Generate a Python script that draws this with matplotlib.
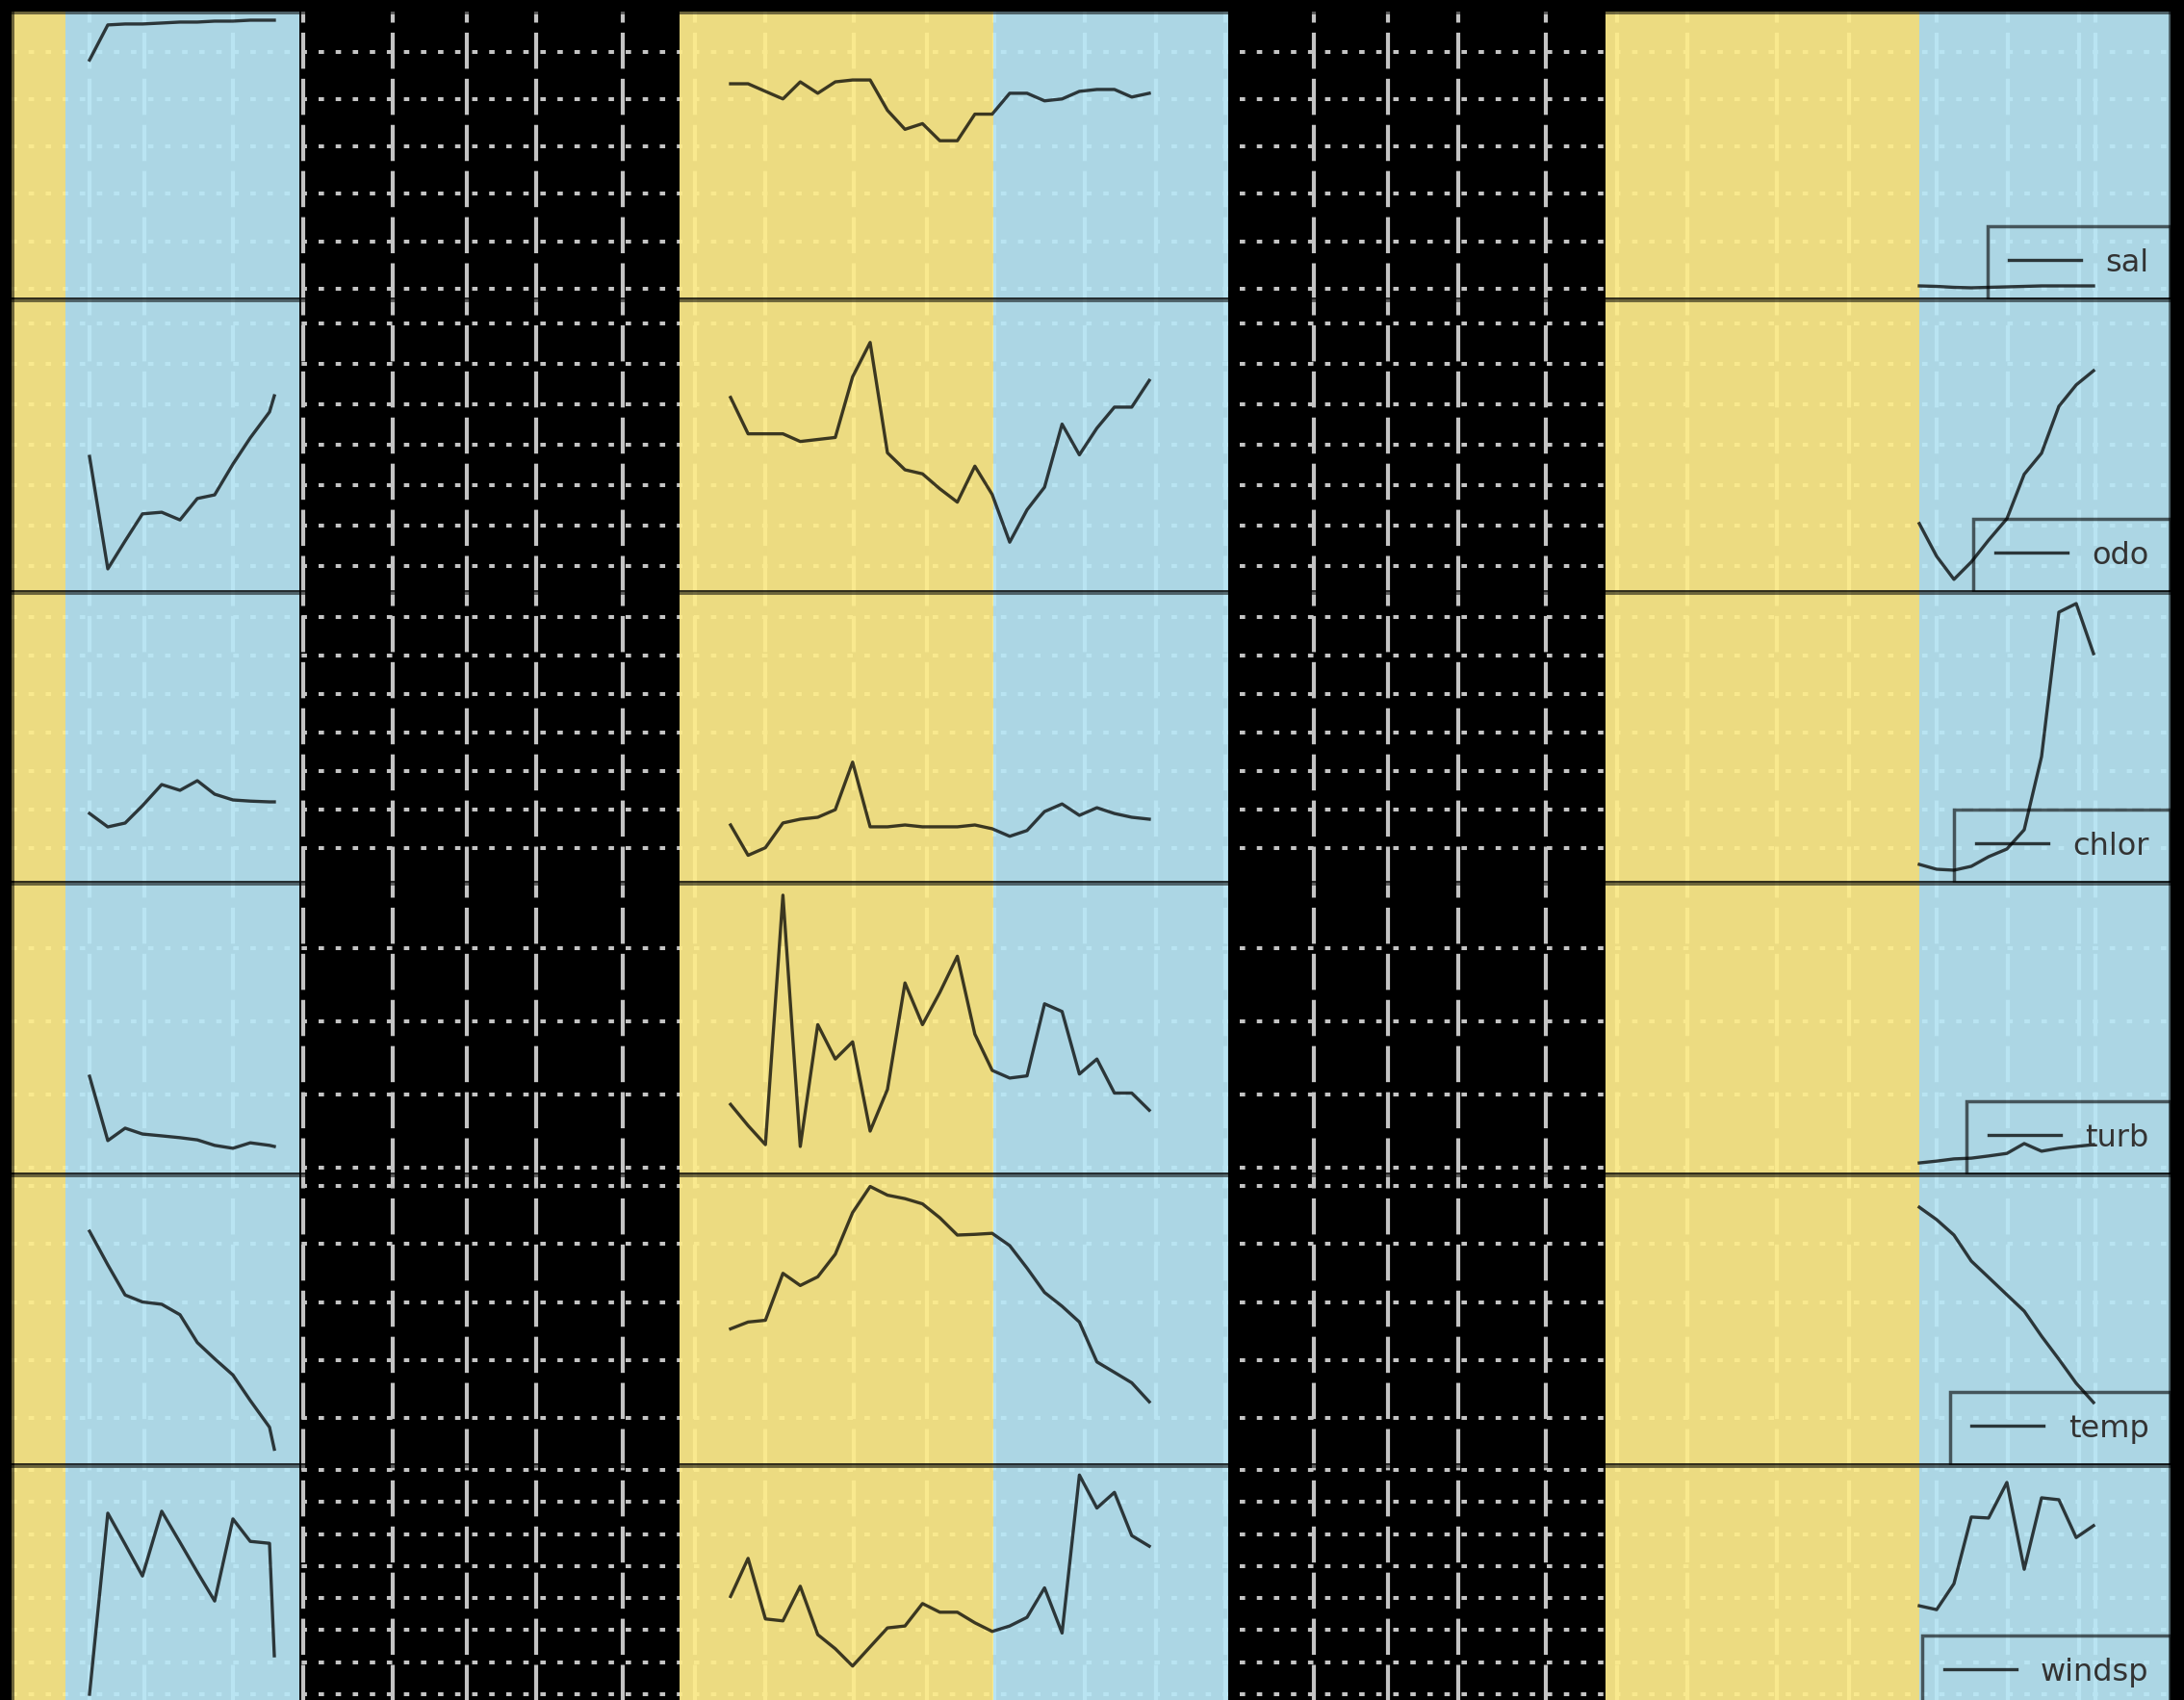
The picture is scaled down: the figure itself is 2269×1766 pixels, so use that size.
import matplotlib
matplotlib.use("Agg")
import matplotlib.pyplot as plt
from matplotlib.ticker import MultipleLocator

# sampling times, in months from the start of the record
months_a = [4.05, 5.0, 5.9, 6.8, 7.8, 8.75, 9.65, 10.55, 11.5, 12.4, 13.4, 13.65]
months_b = [37.35, 38.26, 39.16, 40.07, 40.97, 41.88, 42.79, 43.69, 44.60, 45.50,
            46.41, 47.32, 48.22, 49.13, 50.04, 50.94, 51.85, 52.75, 53.66, 54.57,
            55.47, 56.38, 57.29, 58.19, 59.10]
months_c = [99.1, 100.0, 100.9, 101.8, 102.7, 103.65, 104.55, 105.45, 106.35, 107.25, 108.15]

sal_a = [24.1, 27.8, 27.9, 27.9, 28.0, 28.1, 28.1, 28.2, 28.2, 28.3, 28.3, 28.3]
sal_b = [21.6, 21.6, 20.8, 20.0, 21.8, 20.6, 21.8, 22.0, 22.0, 18.8, 16.8, 17.4, 15.6,
         15.6, 18.4, 18.4, 20.6, 20.6, 19.8, 20.0, 20.8, 21.0, 21.0, 20.2, 20.6]
sal_c = [0.3, 0.25, 0.15, 0.1, 0.15, 0.2, 0.25, 0.3, 0.3, 0.3, 0.3]

odo_a = [6.71, 3.93, 4.62, 5.29, 5.33, 5.14, 5.67, 5.76, 6.52, 7.17, 7.81, 8.21]
odo_b = [8.17, 7.27, 7.27, 7.27, 7.08, 7.13, 7.18, 8.68, 9.53, 6.80, 6.38, 6.28, 5.91,
         5.58, 6.47, 5.77, 4.59, 5.39, 5.95, 7.51, 6.75, 7.41, 7.93, 7.93, 8.59]
odo_c = [5.05, 4.24, 3.67, 4.10, 4.64, 5.17, 6.27, 6.79, 7.95, 8.48, 8.83]

chlor_a = [9.5, 7.75, 8.25, 10.5, 13.25, 12.5, 13.75, 12.0, 11.25, 11.1, 11.0, 11.0]
chlor_b = [8.0, 4.06, 5.05, 8.26, 8.75, 9.0, 9.99, 16.16, 7.76, 7.76, 8.0, 7.76, 7.76,
           7.76, 8.0, 7.51, 6.53, 7.28, 9.74, 10.73, 9.25, 10.24, 9.49, 9.0, 8.75]
chlor_c = [2.88, 2.25, 2.13, 2.63, 3.88, 4.88, 7.38, 16.88, 35.63, 36.75, 30.25]

turb_a = [25.0, 7.4, 10.8, 9.2, 8.7, 8.2, 7.6, 6.1, 5.3, 6.8, 6.1, 5.8]
turb_b = [17.3, 11.5, 6.3, 74.5, 5.8, 39.1, 29.7, 34.4, 10.0, 21.4, 50.5, 39.1, 47.9,
          57.8, 36.5, 26.6, 24.5, 25.1, 44.8, 42.7, 25.6, 29.7, 20.4, 20.4, 15.7]
turb_c = [1.3, 1.8, 2.4, 2.6, 3.2, 3.9, 6.6, 4.5, 5.3, 5.8, 6.3]

temp_a = [26.1, 23.2, 20.6, 20.0, 19.8, 18.9, 16.5, 15.1, 13.7, 11.5, 9.2, 7.3]
temp_b = [17.68, 18.27, 18.42, 22.47, 21.42, 22.17, 24.12, 27.71, 29.96, 29.21, 28.91,
          28.46, 27.26, 25.77, 25.83, 25.92, 24.86, 22.92, 20.82, 19.63, 18.27, 14.83,
          13.93, 13.03, 11.39]
temp_c = [28.17, 27.10, 25.77, 23.53, 22.12, 20.62, 19.21, 17.05, 15.06, 12.99, 11.33]

windsp_a = [1.0, 6.65, 5.68, 4.69, 6.71, 5.74, 4.81, 3.91, 6.47, 5.77, 5.71, 2.2]
windsp_b = [4.05, 5.24, 3.35, 3.29, 4.37, 2.86, 2.42, 1.88, 2.48, 3.07, 3.13, 3.83, 3.56,
            3.56, 3.23, 2.96, 3.13, 3.40, 4.32, 2.91, 7.84, 6.81, 7.30, 5.95, 5.62]
windsp_c = [3.76, 3.64, 4.45, 6.53, 6.50, 7.61, 4.90, 7.13, 7.07, 5.89, 6.26]

variables = ["sal", "odo", "chlor", "turb", "temp", "windsp"]
series = {
    "sal": (sal_a, sal_b, sal_c),
    "odo": (odo_a, odo_b, odo_c),
    "chlor": (chlor_a, chlor_b, chlor_c),
    "turb": (turb_a, turb_b, turb_c),
    "temp": (temp_a, temp_b, temp_c),
    "windsp": (windsp_a, windsp_b, windsp_c),
}

# shaded seasons (months): dry / wet for each of the three sampled periods
dry_seasons = [(0.0, 2.8), (34.7, 51.0), (82.8, 99.1)]
wet_seasons = [(2.8, 14.95), (51.0, 63.2), (99.1, 112.15)]

# axis settings per variable
ylims = {
    "sal": (-1.12, 29.21),
    "odo": (3.357, 10.595),
    "chlor": (0.5, 38.25),
    "turb": (-1.84, 77.9),
    "temp": (5.93, 31.0),
    "windsp": (0.55, 8.15),
}
ystep = {"sal": 5, "odo": 1, "chlor": 5, "turb": 20, "temp": 5, "windsp": 1}
month_ticks = [4.05, 6.9, 11.5, 15.15, 19.8, 23.65, 27.25, 31.75, 35.5, 39.15, 43.75,
               47.55, 51.05, 55.75, 59.45, 63.05, 67.65, 71.5, 75.15, 79.7, 83.4,
               87.05, 91.7, 95.45, 100.0, 103.7, 107.4, 108.25]

W, H = 2269, 1766
fig = plt.figure(figsize=(W / 100, H / 100), dpi=100, facecolor="black")

# row edges in pixels (top, bottom); the last row runs slightly past the canvas
row_edges = [(12, 311), (311, 615), (615, 917), (917, 1220), (1220, 1522), (1522, 1775)]
left_px, right_px = 12, 2255

dry_color = "#FEEC8B"
wet_color = "#B9E7F6"
grid_color = "#c4c4c4"

for var, (top, bot) in zip(variables, row_edges):
    ax = fig.add_axes([left_px / W, 1 - bot / H, (right_px - left_px) / W, (bot - top) / H])
    ax.set_facecolor("black")
    ax.set_xlim(0, 112.15)
    ax.set_ylim(*ylims[var])

    for a, b in dry_seasons:
        ax.axvspan(a, b, color=dry_color, alpha=0.935, lw=0, zorder=1)
    for a, b in wet_seasons:
        ax.axvspan(a, b, color=wet_color, alpha=0.935, lw=0, zorder=1)

    ya, yb, yc = series[var]
    ax.plot(months_a, ya, color="black", alpha=0.75, lw=2.4, zorder=3)
    ax.plot(months_b, yb, color="black", alpha=0.75, lw=2.4, zorder=3)
    ax.plot(months_c, yc, color="black", alpha=0.75, lw=2.4, zorder=3, label=var)

    ax.set_xticks(month_ticks)
    ax.yaxis.set_major_locator(MultipleLocator(ystep[var]))
    ax.set_axisbelow(True)
    ax.grid(axis="x", color=grid_color, lw=3.0, ls=(0, (9, 2.5)))
    ax.grid(axis="y", color=grid_color, lw=2.9, ls=(0, (1.4, 3.0)))
    ax.tick_params(labelleft=False, labelbottom=False, length=0)

    for s in ax.spines.values():
        s.set_color("black")
        s.set_alpha(0.55)
        s.set_linewidth(3.5)

    leg = ax.legend(loc="lower right", fontsize=23, fancybox=False, facecolor="none",
                    edgecolor="black", framealpha=0.6, borderaxespad=0,
                    handlelength=2.35, handletextpad=0.8, borderpad=0.7)
    leg.get_frame().set_linewidth(2.5)
    for t in leg.get_texts():
        t.set_color("#333333")

fig.savefig("out.png", dpi=100, facecolor="black")
